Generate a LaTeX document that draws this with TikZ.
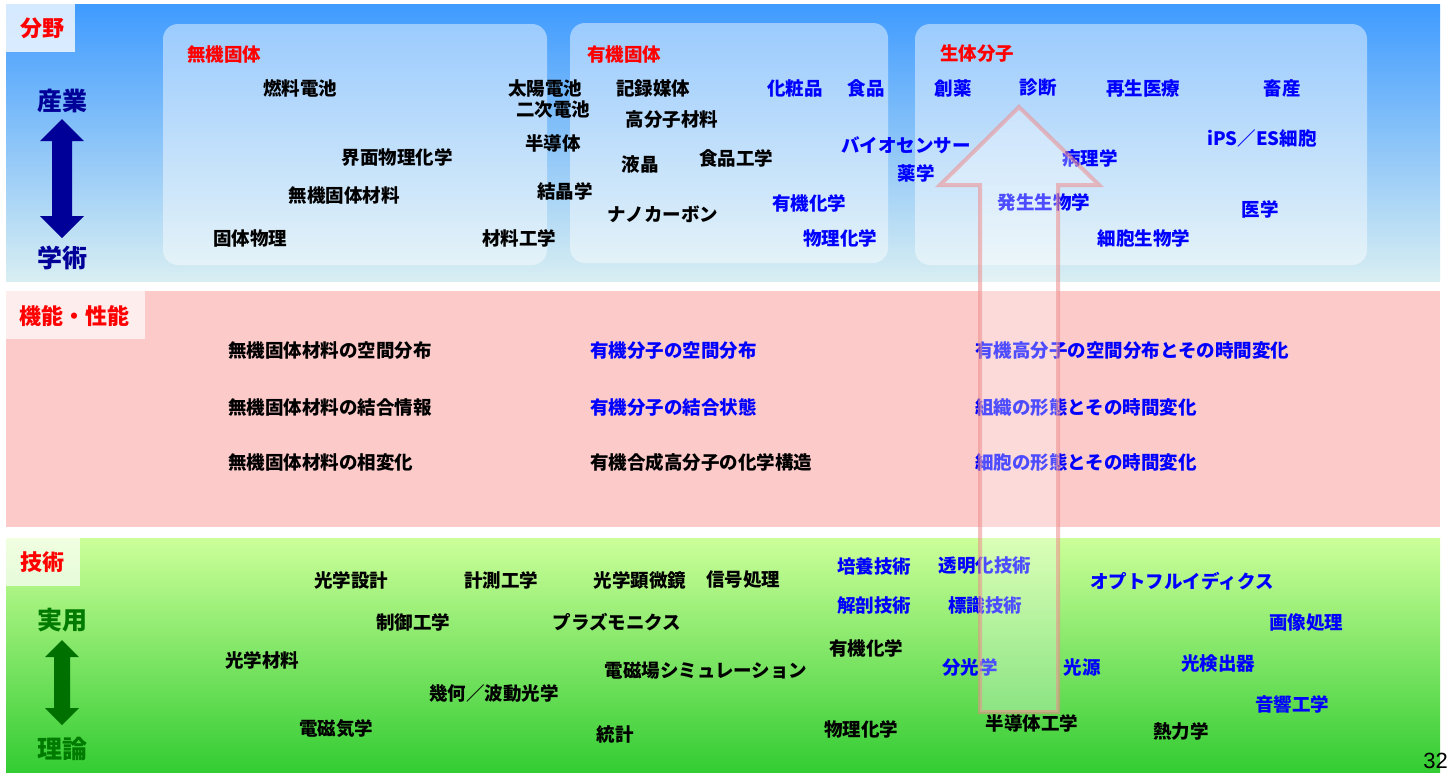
\documentclass[tikz,border=0pt]{standalone}
\usepackage{fontspec}
\setmainfont{Noto Sans CJK JP}
\newfontfamily\pnfont{Liberation Sans}
\definecolor{navy}{HTML}{000099}
\definecolor{dgreen}{HTML}{007A00}
\definecolor{arrowgreen}{HTML}{007000}
\definecolor{bandtop}{HTML}{3F9BFF}
\definecolor{bandbot}{HTML}{D8EEF2}
\definecolor{pinkband}{HTML}{FDCACA}
\definecolor{pinklabel}{HTML}{FDEDED}
\definecolor{greentop}{HTML}{CCFF99}
\definecolor{greenbot}{HTML}{33CC33}
\definecolor{arrowpink}{HTML}{EE8C8C}
\begin{document}
\begin{tikzpicture}[x=1pt,y=-1pt,
  t/.style={font=\fontsize{18.5}{20}\selectfont\bfseries, inner sep=0pt, text=black},
  bt/.style={t, text=blue},
  rt/.style={t, text=red},
  lab/.style={font=\fontsize{22}{24}\selectfont\bfseries, inner sep=0pt, text=red},
  side/.style={font=\fontsize{25}{27}\selectfont\bfseries, inner sep=0pt},
  area/.style={fill=white, fill opacity=0.45, rounded corners=15pt}]
\useasboundingbox (0,0) rectangle (1450,772);
\fill[white] (0,0) rectangle (1450,772);
% bands
\shade[top color=bandtop, bottom color=bandbot] (6,4) rectangle (1440,281);
\fill[pinkband] (6,291) rectangle (1440,527);
\shade[top color=greentop, bottom color=greenbot] (6,538) rectangle (1440,772);
% label boxes
\fill[white, fill opacity=0.78] (6,4) rectangle (75,52);
\fill[pinklabel] (6,291) rectangle (145,339);
\fill[white, fill opacity=0.7] (6,538) rectangle (80,586);
% rounded areas
\fill[area] (163,24) rectangle (547,265);
\fill[area] (570,23) rectangle (888,263);
\fill[area] (915,24) rectangle (1367,265);
% labels
\node[lab] (lfield) at (42,28) {分野};
\node[lab] (lfunc) at (74,316) {機能・性能};
\node[lab] (ltech) at (42,562) {技術};
% side axis labels
\node[side, text=navy] (sind) at (62,101) {産業};
\node[side, text=navy] (sacad) at (62,258) {学術};
\fill[navy] (62,119) -- (84,141) -- (72,141) -- (72,216) -- (84,216) -- (62,238)
  -- (40,216) -- (52,216) -- (52,141) -- (40,141) -- cycle;
\node[side, text=dgreen] (sprac) at (62,620) {実用};
\node[side, text=dgreen] (stheo) at (62,749) {理論};
\fill[arrowgreen] (62,640) -- (79,657) -- (70,657) -- (70,708) -- (79,708) -- (62,725)
  -- (45,708) -- (54,708) -- (54,657) -- (45,657) -- cycle;
% box 1
\node[rt] (c1) at (224,54) {無機固体};
\node[t] (a1) at (300,88) {燃料電池};
\node[t] (a2) at (545,88) {太陽電池};
\node[t] (a3) at (553,110) {二次電池};
\node[t] (a4) at (553,143) {半導体};
\node[t] (a5) at (397,157) {界面物理化学};
\node[t] (a6) at (565,191) {結晶学};
\node[t] (a7) at (344,195) {無機固体材料};
\node[t] (a8) at (250,238) {固体物理};
\node[t] (a9) at (519,238) {材料工学};
% box 2
\node[rt] (c2) at (624,54) {有機固体};
\node[t] (b1) at (653,88) {記録媒体};
\node[bt] (b2) at (795,88) {化粧品};
\node[bt] (b3) at (866,88) {食品};
\node[t] (b4) at (672,120) {高分子材料};
\node[t] (b5) at (640,164) {液晶};
\node[t] (b6) at (736,158) {食品工学};
\node[bt] (b7) at (906,145) {バイオセンサー};
\node[bt] (b8) at (916,173) {薬学};
\node[bt] (b9) at (809,203) {有機化学};
\node[t] (b10) at (663,214) {ナノカーボン};
\node[bt] (b11) at (840,238) {物理化学};
% box 3
\node[rt] (c3) at (977,54) {生体分子};
\node[bt] (d1) at (953,88) {創薬};
\node[bt] (d2) at (1038,88) {診断};
\node[bt] (d3) at (1143,88) {再生医療};
\node[bt] (d4) at (1282,88) {畜産};
\node[bt] (d5) at (1262,138) {iPS／ES細胞};
\node[bt] (d6) at (1090,158) {病理学};
\node[bt] (d7) at (1044,202) {発生生物学};
\node[bt] (d8) at (1260,209) {医学};
\node[bt] (d9) at (1144,238) {細胞生物学};
% function rows
\node[t, anchor=west] (f1) at (228,351) {無機固体材料の空間分布};
\node[t, anchor=west] (f2) at (228,407) {無機固体材料の結合情報};
\node[t, anchor=west] (f3) at (228,462) {無機固体材料の相変化};
\node[bt, anchor=west] (g1) at (590,351) {有機分子の空間分布};
\node[bt, anchor=west] (g2) at (590,407) {有機分子の結合状態};
\node[t, anchor=west] (g3) at (590,462) {有機合成高分子の化学構造};
\node[bt, anchor=west] (h1) at (975,351) {有機高分子の空間分布とその時間変化};
\node[bt, anchor=west] (h2) at (975,407) {組織の形態とその時間変化};
\node[bt, anchor=west] (h3) at (975,462) {細胞の形態とその時間変化};
% technology
\node[t] (k1) at (351,580) {光学設計};
\node[t] (k2) at (501,580) {計測工学};
\node[t] (k3) at (640,580) {光学顕微鏡};
\node[t] (k4) at (743,580) {信号処理};
\node[bt] (k5) at (874,566) {培養技術};
\node[bt] (k6) at (985,566) {透明化技術};
\node[bt] (k7) at (1182,581) {オプトフルイディクス};
\node[t] (k8) at (413,622) {制御工学};
\node[t] (k9) at (617,622) {プラズモニクス};
\node[bt] (k10) at (874,605) {解剖技術};
\node[bt] (k11) at (985,605) {標識技術};
\node[bt] (k12) at (1306,623) {画像処理};
\node[t] (k13) at (262,660) {光学材料};
\node[t] (k14) at (866,648) {有機化学};
\node[t] (k15) at (706,671) {電磁場シミュレーション};
\node[bt] (k16) at (970,667) {分光学};
\node[bt] (k17) at (1082,667) {光源};
\node[bt] (k18) at (1218,664) {光検出器};
\node[t] (k19) at (494,693) {幾何／波動光学};
\node[bt] (k20) at (1292,704) {音響工学};
\node[t] (k21) at (336,729) {電磁気学};
\node[t] (k22) at (615,734) {統計};
\node[t] (k23) at (861,729) {物理化学};
\node[t] (k24) at (1032,723) {半導体工学};
\node[t] (k25) at (1181,731) {熱力学};
% big hollow arrow
\draw[draw=arrowpink, draw opacity=0.55, line width=4pt, fill=white, fill opacity=0.3, line join=miter]
  (1019,107) -- (1099,185) -- (1058,185) -- (1058,712) -- (980,712) -- (980,185)
  -- (940,185) -- cycle;
% page number
\node[font=\pnfont\fontsize{22}{24}\selectfont, inner sep=0pt, anchor=south east] (pg) at (1448,769) {32};
\end{tikzpicture}
\end{document}
